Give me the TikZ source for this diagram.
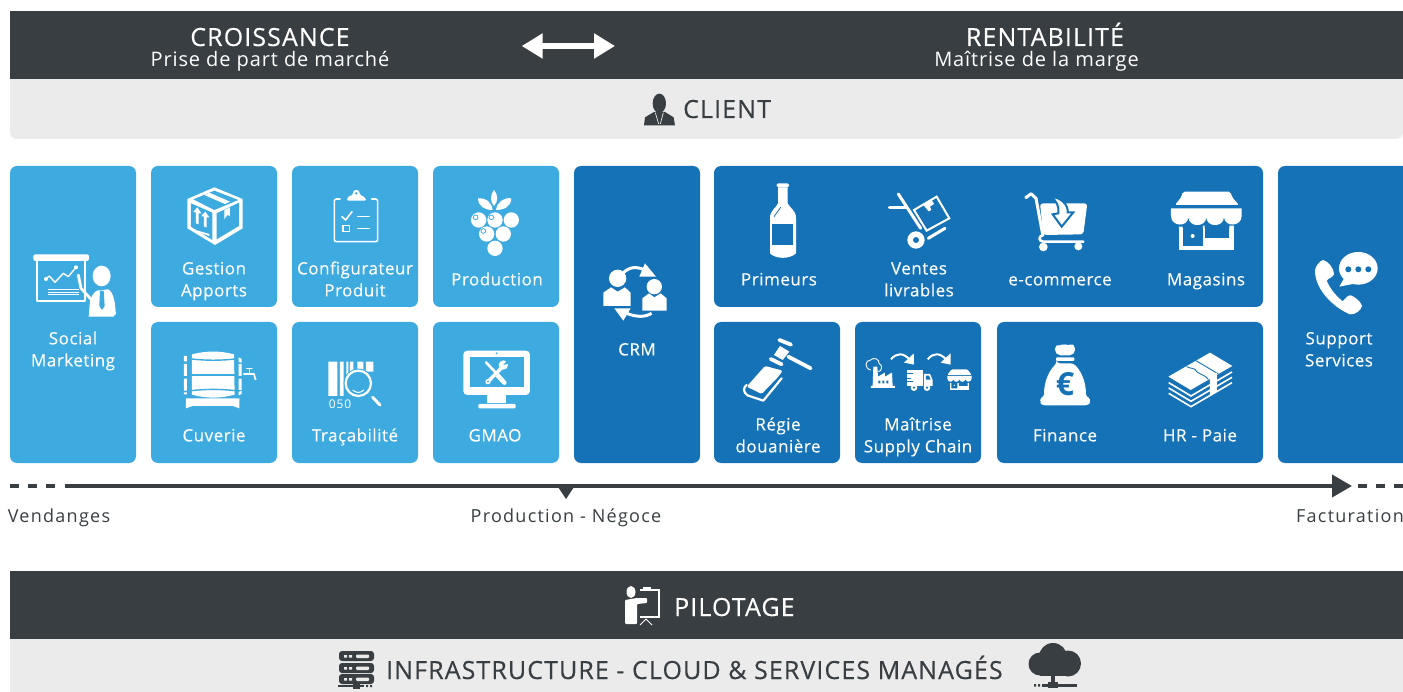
\documentclass[tikz,border=0pt]{standalone}
\usepackage{fontspec}
\setmainfont{Open Sans}
\newfontfamily\lsthree[LetterSpace=3,FakeBold=0.2]{Open Sans}
\newfontfamily\lsfour[LetterSpace=4.4]{Open Sans}
\newfontfamily\lsbig[LetterSpace=4.4,FakeBold=0.3]{Open Sans}
\newfontfamily\lsseven[LetterSpace=7]{Open Sans}
\usetikzlibrary{arrows.meta}
\definecolor{lb}{HTML}{3DAAE0}
\definecolor{db}{HTML}{1572B6}
\definecolor{dk}{HTML}{383E41}
\definecolor{lg}{HTML}{EBEBEB}
\tikzset{
 lbox/.style={fill=lb,rounded corners=7pt,inner sep=0pt,draw=none},
 dbox/.style={fill=db,rounded corners=7pt,inner sep=0pt,draw=none},
 lab/.style={text=white,align=center,inner sep=0pt,font=\lsthree\fontsize{17}{22}\selectfont},
 axl/.style={text=dk,inner sep=0pt,anchor=base,font=\lsseven\fontsize{18}{20}\selectfont},
 big/.style={inner sep=0pt,font=\lsbig\fontsize{25}{28}\selectfont},
 sub/.style={inner sep=0pt,anchor=base,text=white,font=\lsfour\fontsize{20}{22}\selectfont},
 wl/.style={draw=white,fill=none,line cap=round,line join=round},
 z1/.style={shift={(0,160)},x=.3333pt,y=-.3333pt},
 z2/.style={shift={(350,160)},x=.3333pt,y=-.3333pt},
 z3/.style={shift={(710,160)},x=.3333pt,y=-.3333pt},
 z4/.style={shift={(1040,160)},x=.3333pt,y=-.3333pt},
 z6/.style={shift={(500,0)},x=.3333pt,y=-.3333pt},
 zc/.style={shift={(1020,185)},x=.3333pt,y=-.3333pt},
 zm/.style={shift={(460,345)},x=.3333pt,y=-.3333pt},
}
\begin{document}
\begin{tikzpicture}[x=1pt,y=-1pt]
\useasboundingbox (0,0) rectangle (1403,692);
% bars
\node[fill=dk,inner sep=0,minimum width=1393pt,minimum height=68pt] (topbar) at (706.5,45) {};
\fill[lg,rounded corners=7pt] (10,100) -- (10,139) -- (1403,139) -- (1403,100) -- cycle;
\fill[lg] (10,79) rectangle (1403,110);
\node[fill=dk,inner sep=0,minimum width=1393pt,minimum height=68pt] (pilotbar) at (706.5,605) {};
\node[fill=lg,inner sep=0,minimum width=1393pt,minimum height=53pt] (infrabar) at (706.5,665.5) {};
% header text
\node[big,anchor=base,text=white] (croi) at (270,46) {CROISSANCE};
\node[sub] (prise) at (270,67) {Prise de part de marché};
\node[big,anchor=base,text=white] (rent) at (1045,46) {RENTABILITÉ};
\node[sub] (mait) at (1036.5,67) {Maîtrise de la marge};
\coordinate (dl) at (521.7,46); \coordinate (dr) at (615,46);
\draw[white,line width=6.7pt,{Triangle[length=21pt,width=24pt]}-{Triangle[length=21pt,width=24pt]}] (dl) -- (dr);
\node[big,text=dk,anchor=base west] (client) at (683,118) {CLIENT};
% client icon
\begin{scope}[z6]
\fill[dk] (478,310) ellipse [x radius=20,y radius=29];
\fill[dk] (432,376) -- (435,352) -- (462,336) -- (495,336) -- (521,352) -- (525,376) -- cycle;
\draw[lg,line width=.7pt] (466,338) -- (476,372) (490,338) -- (481,372);
\end{scope}
% boxes
\node[lbox,minimum width=126pt,minimum height=297pt] (b1) at (73,314.5) {};
\node[lbox,minimum width=126pt,minimum height=141pt] (b2) at (214,236.5) {};
\node[lbox,minimum width=126pt,minimum height=141pt] (b3) at (214,392.5) {};
\node[lbox,minimum width=126pt,minimum height=141pt] (b4) at (355,236.5) {};
\node[lbox,minimum width=126pt,minimum height=141pt] (b5) at (355,392.5) {};
\node[lbox,minimum width=126pt,minimum height=141pt] (b6) at (496,236.5) {};
\node[lbox,minimum width=126pt,minimum height=141pt] (b7) at (496,392.5) {};
\node[dbox,minimum width=126pt,minimum height=297pt] (b8) at (637,314.5) {};
\node[dbox,minimum width=549pt,minimum height=141pt] (b9) at (988.5,236.5) {};
\node[dbox,minimum width=126pt,minimum height=141pt] (b10) at (777,392.5) {};
\node[dbox,minimum width=126pt,minimum height=141pt] (b11) at (918,392.5) {};
\node[dbox,minimum width=266pt,minimum height=141pt] (b12) at (1130,392.5) {};
\node[dbox,minimum width=132pt,minimum height=297pt] (b13) at (1344,314.5) {};
% labels
\node[lab] (t1) at (73,351) {\strut Social\\\strut Marketing};
\node[lab] (t2) at (214,281) {\strut Gestion\\\strut Apports};
\node[lab] (t3) at (214,437) {\strut Cuverie};
\node[lab] (t4) at (355,281) {\strut Configurateur\\\strut Produit};
\node[lab] (t5) at (355,437) {\strut Traçabilité};
\node[lab] (t6) at (497,281) {\strut Production};
\node[lab] (t7) at (495,437) {\strut GMAO};
\node[lab] (t8) at (637,351) {\strut CRM};
\node[lab] (t9) at (779,281) {\strut Primeurs};
\node[lab] (t10) at (919,281) {\strut Ventes\\\strut livrables};
\node[lab] (t11) at (1060,281) {\strut e-commerce};
\node[lab] (t12) at (1206,281) {\strut Magasins};
\node[lab] (t13) at (778,437) {\strut Régie\\\strut douanière};
\node[lab] (t14) at (918,437) {\strut Maîtrise\\\strut Supply Chain};
\node[lab] (t15) at (1065,437) {\strut Finance};
\node[lab] (t16) at (1200,437) {\strut HR - Paie};
\node[lab] (t17) at (1339,351) {\strut Support\\\strut Services};
% Social icon
\begin{scope}[z1]
\fill[white,rounded corners=2pt] (100,283) rectangle (267,303);
\draw[wl,line width=1.7pt,line cap=butt] (110,303) -- (110,423) -- (256,423) -- (256,303);
\draw[wl,line width=1.4pt] (138,357) -- (148,348) -- (165,367) -- (190,340) -- (205,350) -- (228,322);
\fill[white] (138,357) circle [radius=6] (228,322) circle [radius=6];
\draw[white,line width=.8pt] (143,388) -- (238,388) (143,396) -- (238,396) (143,404) -- (238,404);
\fill[white] (305,348) ellipse [x radius=27,y radius=31];
\fill[white] (266,470) .. controls (270,440) and (265,410) .. (290,392) -- (325,388) .. controls (345,400) and (345,440) .. (348,462) -- (340,470) -- cycle;
\draw[wl,line width=2.8pt] (235,345) -- (243,385) -- (275,420);
\fill[lb] (300,392) -- (311,392) -- (314,438) -- (306,450) -- (298,438) -- cycle;
\end{scope}
% Box icon
\begin{scope}[z1]
\fill[white] (643,82) -- (728,117) -- (728,205) -- (645,255) -- (562,205) -- (562,117) -- cycle;
\fill[lb] (580,118) -- (643,92) -- (715,120) -- (643,150) -- cycle;
\fill[white] (613,105) -- (628,98) -- (690,125) -- (675,132) -- cycle;
\fill[lb] (573,130) -- (637,158) -- (637,240) -- (573,200) -- cycle;
\fill[lb] (650,160) -- (717,128) -- (717,198) -- (650,238) -- cycle;
\fill[white] (673,150) -- (690,142) -- (690,168) -- (682,165) -- (673,178) -- cycle;
\fill[white] (592,142) -- (604,160) -- (596,160) -- (596,193) -- (588,190) -- (588,158) -- (580,155) -- cycle;
\fill[white] (616,155) -- (628,172) -- (620,172) -- (620,203) -- (612,199) -- (612,170) -- (604,168) -- cycle;
\fill[white] (580,208) -- (628,222) -- (628,228) -- (580,212) -- cycle;
\end{scope}
% Barrel
\begin{scope}[z1]
\fill[white] (576,583) .. controls (620,572) and (660,572) .. (702,583) -- (704,704) .. controls (660,716) and (620,716) .. (576,704) -- cycle;
\draw[lb,line width=1.4pt] (574,597) .. controls (620,602) and (660,602) .. (706,597);
\draw[lb,line width=1.4pt] (574,645) -- (706,645);
\draw[lb,line width=1.4pt] (574,692) .. controls (620,687) and (660,687) .. (706,692);
\fill[white] (552,588) rectangle (561,604) (552,612) rectangle (561,648) (552,656) rectangle (561,692) (552,697) rectangle (561,703);
\fill[white] (716,592) -- (725,597) -- (725,608) -- (716,606) -- cycle (716,612) rectangle (725,648) (716,656) rectangle (725,690) (716,696) -- (725,692) -- (725,702) -- (716,706) -- cycle;
\fill[white] (558,715) -- (718,715) -- (718,745) -- (698,738) -- (578,738) -- (558,745) -- cycle;
\draw[wl,line width=1.8pt,line cap=butt] (730,642) -- (762,642) -- (767,660);
\draw[wl,line width=1.5pt] (748,626) -- (748,642) (740,626) -- (756,626);
\end{scope}
% Clipboard
\begin{scope}[z1]
\draw[wl,line width=1.6pt,rounded corners=2pt] (1020,117) -- (1003,117) -- (1003,245) -- (1133,245) -- (1133,117) -- (1115,117);
\fill[white,rounded corners=1.5pt] (1040,122) -- (1046,107) -- (1058,107) .. controls (1058,85) and (1080,85) .. (1080,107) -- (1090,107) -- (1100,122) -- cycle;
\fill[lb] (1069,100) circle [radius=4];
\draw[wl,line width=1.6pt] (1026,170) -- (1037,180) -- (1056,155);
\draw[wl,line width=1.6pt,line join=miter] (1029,197) rectangle (1049,215);
\draw[wl,line width=1.6pt,line cap=butt] (1070,170) -- (1110,170) (1070,205) -- (1110,205);
\end{scope}
% Barcode
\begin{scope}[z1]
\fill[white] (985,605) rectangle (1012,708) (1020,605) rectangle (1031,708) (1039,605) rectangle (1045,660) (1050,605) rectangle (1060,635) (1072,605) rectangle (1090,635) (1098,605) rectangle (1120,635);
\fill[lb] (1075,670) circle [radius=44];
\draw[white,line width=2.2pt] (1075,670) circle [radius=38];
\draw[white,line width=1pt] (1058,690) .. controls (1070,700) and (1080,700) .. (1092,690);
\draw[wl,line width=3pt] (1118,712) -- (1140,735);
\end{scope}
\node[text=white,inner sep=0,font=\lsseven\fontsize{12}{12}\selectfont] (code) at (340,404) {050};
% Grapes
\begin{scope}[z2]
\fill[white] (432,90) .. controls (420,105) and (420,125) .. (432,138) .. controls (445,125) and (445,105) .. (432,90) -- cycle;
\fill[white] (384,115) .. controls (405,112) and (425,125) .. (428,150) .. controls (405,150) and (385,140) .. (384,115) -- cycle;
\fill[white] (484,115) .. controls (462,112) and (442,125) .. (438,150) .. controls (462,150) and (483,140) .. (484,115) -- cycle;
\fill[white] (386,180) circle [radius=23] (435,180) circle [radius=23] (484,180) circle [radius=23] (410,222) circle [radius=23] (460,222) circle [radius=23] (435,265) circle [radius=23];
\draw[lb,line width=.8pt] (377,172) circle [radius=7] (424,172) circle [radius=7] (400,213) circle [radius=7];
\end{scope}
% Monitor
\begin{scope}[z2]
\fill[white,rounded corners=4pt] (340,572) rectangle (540,705);
\fill[lb] (360,592) rectangle (522,682);
\fill[lb] (440,580) circle [radius=3];
\fill[white] (412,705) rectangle (467,730);
\fill[white,rounded corners=1pt] (385,732) rectangle (497,745);
\end{scope}
\begin{scope}[zm]
\draw[wl,line width=2.6pt] (78,52) -- (108,84);
\draw[wl,line width=4.5pt] (108,86) -- (133,113);
\draw[wl,line width=3.4pt] (125,68) -- (86,108);
\fill[white] (130,60) circle [radius=14];
\fill[lb] (130,60) -- (146,40) -- (152,54) -- cycle;
\fill[white] (84,110) circle [radius=8];
\fill[lb] (84,110) circle [radius=3];
\end{scope}
% CRM
\begin{scope}[z2]
\draw[white,line width=3pt] (820,338) .. controls (840,320) and (860,318) .. (888,332);
\fill[white] (885,310) -- (918,350) -- (868,350) -- cycle;
\draw[white,line width=3pt] (905,460) .. controls (885,472) and (860,472) .. (830,460);
\fill[white] (793,445) -- (842,445) -- (820,482) -- cycle;
\fill[white] (803,355) circle [radius=26];
\fill[white] (760,438) -- (760,398) -- (783,382) -- (803,395) -- (825,382) -- (842,398) -- (842,438) -- cycle;
\fill[white] (913,380) circle [radius=23];
\fill[white] (877,452) -- (877,415) -- (897,400) -- (913,412) -- (932,400) -- (950,415) -- (950,452) -- cycle;
\end{scope}
% Bottle
\begin{scope}[z3]
\fill[white,rounded corners=1.5pt] (200,70) rectangle (237,82);
\fill[white] (204,82) -- (233,82) -- (233,130) .. controls (240,145) and (258,150) .. (258,175) -- (258,280) .. controls (240,298) and (197,298) .. (180,280) -- (180,175) .. controls (180,150) and (198,145) .. (204,130) -- cycle;
\fill[db] (187,192) rectangle (250,255);
\draw[db,line width=.8pt] (192,170) -- (212,142);
\end{scope}
% Trolley
\begin{scope}[z3]
\draw[wl,line width=3pt] (565,102) -- (632,205);
\draw[wl,line width=3pt] (538,142) -- (590,142);
\fill[white] (618,240) circle [radius=26];
\fill[db] (618,240) circle [radius=9];
\draw[wl,line width=3pt] (655,235) -- (705,205);
\draw[white,line width=2pt,line join=miter] (612,150) -- (680,110) -- (718,175) -- (650,212) -- cycle;
\fill[white] (640,135) -- (665,120) -- (672,132) -- (660,140) -- (664,150) -- (656,154) -- cycle;
\end{scope}
% Cart
\begin{scope}[zc]
\fill[white] (18,36) circle [radius=5];
\draw[wl,line width=3pt] (18,38) -- (33,26) -- (48,40) -- (68,148);
\fill[white,rounded corners=3pt] (60,55) -- (202,55) -- (190,148) -- (70,150) -- cycle;
\draw[wl,line width=2.6pt] (70,150) .. controls (55,152) and (55,170) .. (70,170) -- (190,170);
\fill[white] (70,186) circle [radius=13] (175,184) circle [radius=12];
\draw[db,line width=2pt,fill=white,line join=miter] (93,35) .. controls (125,38) and (145,60) .. (143,82) -- (160,82) -- (125,125) -- (98,88) -- (115,85) .. controls (118,65) and (110,48) .. (93,35) -- cycle;
\end{scope}
% Shop
\begin{scope}[z4]
\fill[white,rounded corners=2pt] (428,95) -- (572,95) -- (575,110) -- (597,135) -- (405,135) -- (425,110) -- cycle;
\fill[white] (393,145) -- (605,145) -- (605,168) .. controls (605,200) and (555,203) .. (552,172) .. controls (550,203) and (500,203) .. (499,172) .. controls (497,203) and (447,203) .. (445,172) .. controls (443,203) and (393,200) .. (393,168) -- cycle;
\fill[white] (417,205) -- (582,205) -- (582,270) -- (417,270) -- cycle;
\fill[db] (429,200) rectangle (488,258);
\fill[db] (494,200) rectangle (568,235);
\fill[db] (394,196) rectangle (600,205);
\fill[white] (417,200) rectangle (428,205) (489,197) rectangle (494,206) (568,197) rectangle (582,206);
\fill[white] (458,228) circle [radius=6];
\end{scope}
% Gavel and book
\begin{scope}[z3]
\draw[wl,line width=3.8pt] (235,590) -- (302,625);
\fill[white] (210,558) -- (238,575) -- (218,600) -- (192,585) -- cycle;
\draw[wl,line width=3.8pt] (208,540) -- (243,554);
\draw[wl,line width=3.8pt] (182,597) -- (215,613);
\fill[white,rounded corners=1.5pt] (165,618) -- (218,632) -- (205,650) -- (155,702) -- (110,680) -- cycle;
\draw[wl,line width=2.2pt] (215,655) -- (160,722) -- (112,706) .. controls (98,695) and (100,682) .. (110,675);
\end{scope}
% Supply chain
\begin{scope}[z3]
\draw[white,line width=.9pt] (482,630) .. controls (462,625) and (465,600) .. (482,600) .. controls (490,590) and (510,598) .. (507,610) .. controls (520,615) and (515,635) .. (505,635);
\fill[white] (490,620) -- (502,620) -- (504,650) -- (525,638) -- (525,650) -- (546,638) -- (548,678) -- (555,678) -- (555,684) -- (483,684) -- (483,678) -- (488,678) -- cycle;
\fill[db] (505,662) rectangle (511,670) (517,662) rectangle (523,670) (529,662) rectangle (535,670);
\foreach \s in {0,110} {
 \draw[white,line width=2pt] (543+\s,598) .. controls (560+\s,578) and (580+\s,578) .. (598+\s,598);
 \fill[white] (612+\s,580) -- (612+\s,614) -- (582+\s,608) -- cycle;
}
\fill[white] (592,630) rectangle (638,678);
\fill[white] (642,642) -- (660,642) -- (668,660) -- (668,678) -- (642,678) -- cycle;
\fill[db] (648,647) -- (657,647) -- (662,659) -- (648,659) -- cycle;
\fill[white] (612,683) circle [radius=10] (651,683) circle [radius=10];
\fill[db] (612,683) circle [radius=4] (651,683) circle [radius=4];
\draw[db,line width=1pt] (588,642) -- (610,642) (588,655) -- (602,655) (588,664) -- (608,664);
\fill[white,rounded corners=1pt] (725,628) -- (772,628) -- (785,645) -- (712,645) -- cycle;
\fill[white] (712,648) -- (785,648) -- (785,656) .. controls (782,668) and (770,668) .. (767,658) .. controls (762,668) and (752,668) .. (748,658) .. controls (745,668) and (733,668) .. (730,658) .. controls (727,668) and (715,668) .. (712,656) -- cycle;
\fill[white] (720,668) rectangle (778,690);
\fill[db] (724,668) rectangle (742,685) (747,668) rectangle (773,678);
\fill[white] (733,676) circle [radius=2];
\end{scope}
% Money bag
\begin{scope}[z4]
\fill[white,rounded corners=2pt] (45,560) -- (55,553) -- (65,558) -- (72,550) -- (85,558) -- (95,550) -- (105,560) -- (105,575) -- (95,586) -- (55,586) -- (45,575) -- cycle;
\fill[white,rounded corners=1pt] (48,592) rectangle (103,603);
\fill[white,rounded corners=3pt] (50,610) -- (100,610) .. controls (120,630) and (138,660) .. (138,712) -- (148,712) -- (152,725) -- (145,736) -- (5,736) -- (0,725) -- (2,712) -- (12,712) .. controls (12,660) and (30,630) .. (50,610) -- cycle;
\end{scope}
\node[text=db,inner sep=0,font=\fontsize{32}{34}\bfseries\selectfont] (euro) at (1065,384) {€};
% Bills
\begin{scope}[z4]
\fill[white] (385,650) -- (510,578) -- (577,618) -- (452,690) -- cycle;
\draw[db,line width=.9pt] (440,620) .. controls (455,628) and (465,622) .. (470,635) .. controls (478,642) and (500,648) .. (505,658);
\draw[db,line width=.9pt] (468,602) -- (535,642);
\draw[white,line width=1.6pt,line join=miter] (386,668) -- (453,708) -- (576,636);
\draw[white,line width=1.6pt,line join=miter] (386,684) -- (453,724) -- (576,652);
\draw[white,line width=1.6pt,line join=miter] (386,700) -- (453,740) -- (576,668);
\fill[white] (510,650) -- (531,638) -- (531,693) -- (510,705) -- cycle;
\end{scope}
% Phone
\begin{scope}[z4]
\fill[white] (850,300) .. controls (865,305) and (882,325) .. (882,342) .. controls (880,352) and (868,352) .. (860,362) .. controls (870,385) and (885,405) .. (908,424) .. controls (915,418) and (922,405) .. (932,406) .. controls (945,410) and (962,425) .. (966,437) .. controls (965,450) and (945,465) .. (930,463) .. controls (875,440) and (825,385) .. (825,332) .. controls (826,320) and (838,302) .. (850,300) -- cycle;
\fill[white] (955,325) ellipse [x radius=58,y radius=49];
\fill[white] (915,350) -- (898,380) -- (948,370) -- cycle;
\fill[db] (925,328) circle [radius=9] (955,328) circle [radius=9] (985,328) circle [radius=9];
\end{scope}
% Axis
\coordinate (a0) at (10,486); \coordinate (a1) at (57,486);
\coordinate (a2) at (65,486); \coordinate (a3) at (1352,486);
\coordinate (a4) at (1358,486); \coordinate (a5) at (1403,486);
\draw[dk,line width=4pt,-{Triangle[length=20pt,width=22pt]}] (a2) -- (a3);
\draw[dk,line width=3.4pt,dash pattern=on 8.5pt off 9.5pt] (a0) -- (a1);
\draw[dk,line width=3.4pt,dash pattern=on 8.5pt off 9.5pt] (a4) -- (a5);
\fill[dk] (558,487) -- (574,487) -- (566,499) -- cycle;
\node[axl] (v) at (59,522) {Vendanges};
\node[axl] (pn) at (566,522) {Production - Négoce};
\node[axl] (f) at (1350,522) {Facturation};
% Pilotage
\node[big,text=white,anchor=base west] (pil) at (674,616) {PILOTAGE};
\fill[white] (631,592) ellipse [x radius=4.5,y radius=6];
\fill[white,rounded corners=1pt] (625,600) -- (637,598) -- (647,598) -- (647,603) -- (637,604) -- (637,624) -- (625,624) -- cycle;
\draw[white,line width=1.2pt] (640,590) -- (659,590) -- (659,617) -- (640,617);
\fill[white] (643,587) rectangle (651,590);
\draw[white,line width=1pt] (640,625) -- (646,619) -- (652,625);
% Infra
\node[big,text=dk,anchor=base west] (inf) at (386,679) {INFRASTRUCTURE - CLOUD \& SERVICES MANAGÉS};
\foreach \y in {651,663,674} {
 \fill[dk,rounded corners=3pt] (339,\y) rectangle (374,\y+10);
 \fill[lg] (344,\y+4) rectangle (347,\y+6.5) (349,\y+4) rectangle (352,\y+6.5);
 \fill[lg,rounded corners=1pt] (356,\y+3.5) rectangle (369,\y+7);
}
\fill[dk] (353,684) rectangle (360,689);
\fill[dk] (338,685) rectangle (364,687);
\fill[dk] (366,685) rectangle (368,687) (370,685) rectangle (372,687);
\fill[dk] (1053,657) circle [radius=14] (1040,664) circle [radius=11.5] (1068,663.5) circle [radius=13];
\fill[dk] (1040,664) rectangle (1068,676);
\fill[dk] (1051,672) rectangle (1055,684);
\fill[dk] (1048,682) rectangle (1058,688);
\fill[dk] (1042,684) rectangle (1077,686.5);
\fill[dk] (1034,684) rectangle (1036,686.5) (1038,684) rectangle (1040,686.5);
\end{tikzpicture}
\end{document}
